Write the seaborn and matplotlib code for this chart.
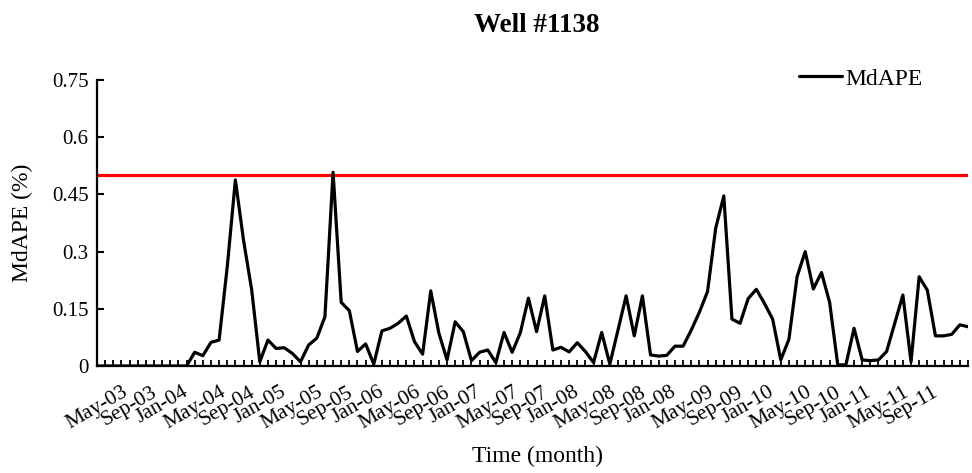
import numpy as np
import pandas as pd
import matplotlib
matplotlib.use("Agg")
import matplotlib.pyplot as plt
import seaborn as sns

# ---- data ----
mdape = [0, 0, 0, 0, 0, 0, 0, 0, 0, 0, 0, 0,
         0.036, 0.027, 0.062, 0.068, 0.26, 0.488, 0.33, 0.20, 0.011, 0.068,
         0.046, 0.048, 0.033, 0.011, 0.055, 0.073, 0.129, 0.508, 0.167, 0.145,
         0.038, 0.058, 0.005, 0.092, 0.099, 0.112, 0.131, 0.064, 0.031, 0.197,
         0.086, 0.016, 0.116, 0.090, 0.014, 0.036, 0.042, 0.009, 0.088, 0.036,
         0.087, 0.178, 0.090, 0.184, 0.042, 0.049, 0.037, 0.061, 0.038, 0.009,
         0.088, 0.005, 0.094, 0.184, 0.079, 0.184, 0.029, 0.026, 0.028, 0.052,
         0.052, 0.094, 0.141, 0.195, 0.361, 0.446, 0.123, 0.112, 0.177, 0.201,
         0.164, 0.123, 0.016, 0.070, 0.234, 0.300, 0.202, 0.245, 0.167, 0.003,
         0.003, 0.099, 0.016, 0.014, 0.016, 0.038, 0.112, 0.186, 0.011, 0.234,
         0.199, 0.079, 0.079, 0.083, 0.108, 0.103]
tick_labels = ["May-03", "Sep-03", "Jan-04", "May-04", "Sep-04", "Jan-05",
               "May-05", "Sep-05", "Jan-06", "May-06", "Sep-06", "Jan-07",
               "May-07", "Sep-07", "Jan-08", "May-08", "Sep-08", "Jan-08",
               "May-09", "Sep-09", "Jan-10", "May-10", "Sep-10", "Jan-11",
               "May-11", "Sep-11"]
y_ticks = [0, 0.15, 0.3, 0.45, 0.6, 0.75]
y_tick_labels = ["0", "0.15", "0.3", "0.45", "0.6", "0.75"]
threshold = 0.5

df = pd.DataFrame({"month": np.arange(len(mdape)), "MdAPE": mdape})

sns.set_style("white", {"text.color": "black", "axes.labelcolor": "black",
                        "xtick.color": "black", "ytick.color": "black",
                        "xtick.bottom": True, "ytick.left": True})
plt.rcParams["font.family"] = ["Liberation Serif", "DejaVu Serif"]

fig = plt.figure(figsize=(9.72, 4.73), dpi=100)
ax = fig.add_axes([97 / 972, 1 - 366 / 473, (968 - 97) / 972, (366 - 80) / 473])

sns.lineplot(data=df, x="month", y="MdAPE", ax=ax, color="black",
             linewidth=2.3, label="MdAPE")
ax.axhline(threshold, color="#ff0000", linewidth=2.3, zorder=1)

ax.set_xlim(0, len(mdape) - 1)
ax.set_ylim(0, 0.75)
ax.set_yticks(y_ticks)
ax.set_yticklabels(y_tick_labels)
ax.set_xticks(np.arange(len(mdape)), minor=True)
ax.set_xticks(np.arange(0, 4 * len(tick_labels), 4))
ax.set_xticklabels(tick_labels, rotation=30, ha="center", va="top")

ax.tick_params(axis="x", which="both", direction="in", length=4, width=1.3,
               pad=12, labelsize=15.5, colors="black", bottom=True)
ax.tick_params(axis="y", direction="in", length=5, width=1.5, pad=6,
               labelsize=15, colors="black", left=True)

for s in ["top", "right"]:
    ax.spines[s].set_visible(False)
for s in ["left", "bottom"]:
    ax.spines[s].set_color("black")
    ax.spines[s].set_linewidth(1.6)

ax.set_xlabel("")
ax.set_ylabel("")
fig.text(22 / 972, 1 - 223 / 473, "MdAPE (%)", rotation=90, ha="center",
         va="center", fontsize=17, color="black")
fig.text(537 / 972, 1 - 456 / 473, "Time (month)", ha="center", va="center",
         fontsize=17, color="black")
fig.text(537 / 972, 1 - 26 / 473, "Well #1138", ha="center", va="center",
         fontsize=19.5, fontweight="bold", color="black")

leg = ax.legend(loc="upper right", bbox_to_anchor=(923 / 972, 1 - 68 / 473),
                bbox_transform=fig.transFigure, frameon=False, fontsize=17,
                handlelength=1.85, handletextpad=0.15, borderaxespad=0,
                borderpad=0, labelcolor="black")
for line in leg.get_lines():
    line.set_linewidth(2.3)

fig.savefig("out.png", dpi=100)
